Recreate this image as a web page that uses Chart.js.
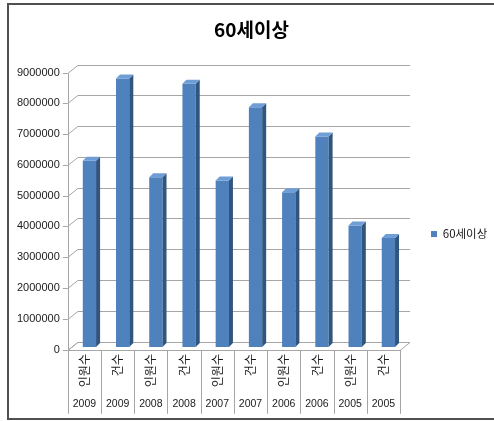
<!DOCTYPE html>
<html lang="ko">
<head>
<meta charset="UTF-8">
<title>60세이상</title>
<script src="https://cdn.jsdelivr.net/npm/chart.js"></script>
<style>
  html, body { margin: 0; padding: 0; background: #fff; overflow: hidden; }
  .frame {
    position: absolute; left: 7px; top: 3px;
    width: 600px; height: 413px;
    border: 2px solid #505050; border-right: none;
  }
  #chart { position: absolute; left: 0; top: 0; }
</style>
</head>
<body>
<div class="frame"></div>
<canvas id="chart" width="494" height="421"></canvas>
<script>
// data
const seriesName = '60세이상';
const items = ['인원수', '건수', '인원수', '건수', '인원수', '건수', '인원수', '건수', '인원수', '건수'];
const years = ['2009', '2009', '2008', '2008', '2007', '2007', '2006', '2006', '2005', '2005'];
const values = [6050000, 8720000, 5520000, 8550000, 5410000, 7790000, 5030000, 6840000, 3950000, 3540000];
const yMax = 9000000;
const yStep = 1000000;

// 3D look
const DEPTH_X = 10, DEPTH_Y = 8;   // back wall offset
const BAR_SHIFT = 5;               // bars sit half way into the box
const BAR_DEPTH = 4;
const FRONT_DROP = 2.5;            // front edge sits slightly below the bar base
const GRID = '#a6a6a6';
const FACE = '#4f81bd', SIDE = '#30557f', TOP = '#6f9dd6';

const box3d = {
  id: 'box3d',
  beforeDatasetsDraw(chart) {
    const {ctx, chartArea: a, scales: {y}} = chart;
    const front = v => Math.round(y.getPixelForValue(v) + FRONT_DROP) + 0.5;
    ctx.save();
    ctx.strokeStyle = GRID;
    ctx.lineWidth = 1;

    // floor
    const f = front(0);
    ctx.beginPath();
    ctx.moveTo(a.left, f);
    ctx.lineTo(a.right, f);
    ctx.lineTo(a.right + DEPTH_X, f - DEPTH_Y);
    ctx.lineTo(a.left + DEPTH_X, f - DEPTH_Y);
    ctx.closePath();
    ctx.stroke();

    // gridlines: tick mark, slant on the side wall, line on the back wall
    y.ticks.forEach(t => {
      const py = front(t.value);
      ctx.beginPath();
      ctx.moveTo(a.left - 5, py);
      ctx.lineTo(a.left, py);
      ctx.lineTo(a.left + DEPTH_X, py - DEPTH_Y);
      ctx.lineTo(a.right + DEPTH_X, py - DEPTH_Y);
      ctx.stroke();
    });

    // value axis
    const lx = Math.round(a.left) + 0.5;
    ctx.beginPath();
    ctx.moveTo(lx, front(0));
    ctx.lineTo(lx, front(yMax));
    ctx.stroke();
    ctx.restore();

    ctx.save();
    ctx.translate(BAR_SHIFT, 0);
  },
  afterDatasetsDraw(chart) {
    const {ctx} = chart;
    const d = BAR_DEPTH;
    chart.getDatasetMeta(0).data.forEach(bar => {
      const {x, y, base, width} = bar.getProps(['x', 'y', 'base', 'width'], true);
      const l = x - width / 2, r = x + width / 2;
      ctx.fillStyle = SIDE;
      ctx.beginPath();
      ctx.moveTo(r, y); ctx.lineTo(r + d, y - d); ctx.lineTo(r + d, base - d); ctx.lineTo(r, base);
      ctx.closePath();
      ctx.fill();
      ctx.fillStyle = TOP;
      ctx.beginPath();
      ctx.moveTo(l, y); ctx.lineTo(r, y); ctx.lineTo(r + d, y - d); ctx.lineTo(l + d, y - d);
      ctx.closePath();
      ctx.fill();
    });
    ctx.restore();
  },
  afterDraw(chart) {
    // boxes around the category labels
    const {ctx, scales: {x, x2, y}} = chart;
    const top = Math.round(y.getPixelForValue(0) + FRONT_DROP);
    const n = items.length;
    ctx.save();
    ctx.strokeStyle = GRID;
    ctx.lineWidth = 1;
    for (let i = 0; i <= n; i++) {
      let bx;
      if (i === 0) bx = x.left;
      else if (i === n) bx = x.right;
      else bx = (x.getPixelForValue(i - 1) + x.getPixelForValue(i)) / 2;
      bx = Math.round(bx) + 0.5;
      ctx.beginPath();
      ctx.moveTo(bx, top);
      ctx.lineTo(bx, x2.bottom);
      ctx.stroke();
    }
    ctx.restore();
  }
};

const numFont = "'Liberation Sans', Arial, sans-serif";
const korFont = "'Noto Sans CJK KR', sans-serif";
const noGrid = () => ({ display: false, drawTicks: false });

new Chart(document.getElementById('chart'), {
  type: 'bar',
  data: {
    labels: items,
    datasets: [{
      label: seriesName,
      data: values,
      backgroundColor: FACE,
      barPercentage: 0.4,
      categoryPercentage: 1.0
    }]
  },
  options: {
    responsive: false,
    animation: false,
    devicePixelRatio: 1,
    events: [],
    // tick padding is counted on both sides of each axis
    layout: { padding: { left: 9, right: 0, top: 10, bottom: 7.2 } },
    scales: {
      y: {
        min: 0,
        max: yMax,
        grid: noGrid(),
        border: { display: false },
        ticks: {
          stepSize: yStep,
          padding: 8,
          labelOffset: 2.5,
          color: '#1a1a1a',
          font: { family: numFont, size: 11 },
          callback: v => String(v)
        }
      },
      x: {
        weight: 0,
        grid: noGrid(),
        border: { display: false },
        ticks: {
          autoSkip: false,
          minRotation: 90,
          maxRotation: 90,
          padding: 7,
          color: '#1a1a1a',
          font: { family: korFont, size: 12 }
        }
      },
      x2: {
        type: 'category',
        position: 'bottom',
        labels: years,
        offset: true,
        weight: 1,
        grid: noGrid(),
        border: { display: false },
        ticks: {
          autoSkip: false,
          maxRotation: 0,
          padding: 3.5,
          color: '#1a1a1a',
          font: { family: numFont, size: 10.5 }
        }
      }
    },
    plugins: {
      title: {
        display: true,
        text: seriesName,
        color: '#000',
        font: { family: korFont, size: 19, weight: 'bold' },
        padding: { top: 8.6, bottom: 28.6 }
      },
      legend: {
        position: 'right',
        fullSize: false,
        maxWidth: 94,
        title: { display: true, text: '', font: { size: 1 }, padding: { top: 49.8, bottom: 0 } },
        labels: {
          boxWidth: 6,
          boxHeight: 6,
          padding: 31,
          color: '#1a1a1a',
          font: { family: korFont, size: 11.5 }
        }
      },
      tooltip: { enabled: false }
    }
  },
  plugins: [box3d]
});
</script>
</body>
</html>
